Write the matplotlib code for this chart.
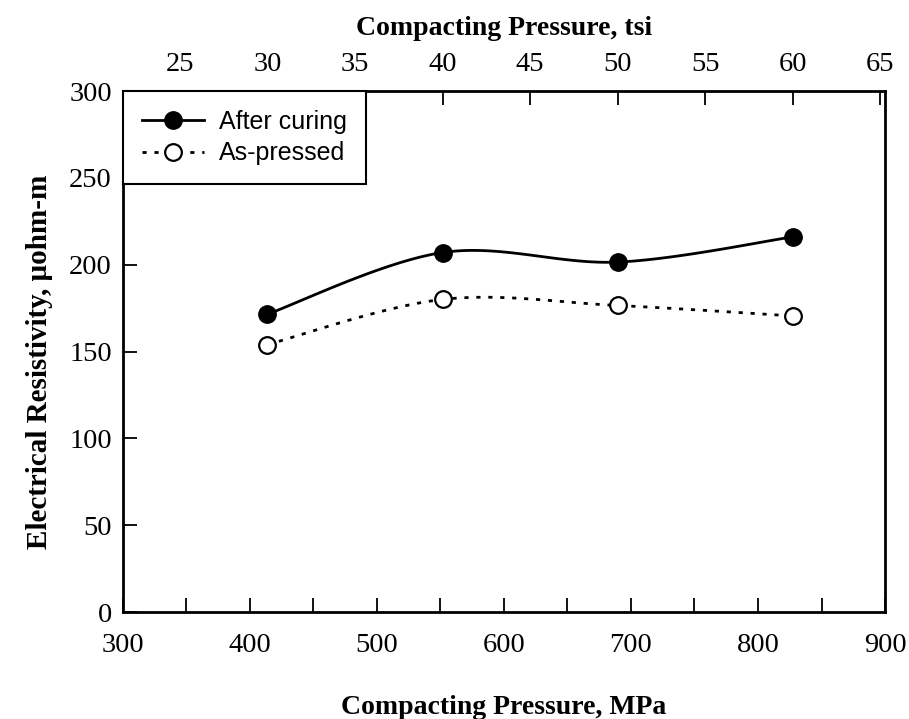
import numpy as np
import matplotlib.pyplot as plt

# compacting pressure (tsi) and resistivity (micro-ohm m)
pressure_tsi = [30, 40, 50, 60]
after_curing = [171.5, 207, 201.5, 216]
as_pressed = [154, 180, 176.5, 170.5]

MPA_PER_TSI = 13.7895
pressure_mpa = [p * MPA_PER_TSI for p in pressure_tsi]


def smooth(xs, ys, n=40):
    # catmull-rom curve through the points, like a spreadsheet "smoothed line"
    x = np.asarray(xs, float)
    y = np.asarray(ys, float)
    px = np.concatenate([[x[0]], x, [x[-1]]])
    py = np.concatenate([[y[0]], y, [y[-1]]])
    ox, oy = [], []
    t = np.linspace(0, 1, n)
    for i in range(1, len(px) - 2):
        for p, out in ((px, ox), (py, oy)):
            p0, p1, p2, p3 = p[i - 1], p[i], p[i + 1], p[i + 2]
            m1 = (p2 - p0) / 2
            m2 = (p3 - p1) / 2
            h00 = 2 * t**3 - 3 * t**2 + 1
            h10 = t**3 - 2 * t**2 + t
            h01 = -2 * t**3 + 3 * t**2
            h11 = t**3 - t**2
            out.extend(h00 * p1 + h10 * m1 + h01 * p2 + h11 * m2)
    return np.array(ox), np.array(oy)


serif = ['Liberation Serif', 'DejaVu Serif']
sans = ['Liberation Sans', 'DejaVu Sans']
TICK_SIZE = 20.5
LABEL_SIZE = 20
DOTS = (0, (1.5, 2.8))

fig = plt.figure(figsize=(9.09, 7.19), dpi=100)
ax = fig.add_axes([0.1353, 0.1488, 0.8383, 0.7246])

sx, sy = smooth(pressure_mpa, after_curing)
ax.plot(sx, sy, color='black', lw=2)
ax.plot(pressure_mpa, after_curing, 'o', color='black', ms=12.5)
ax.plot([], [], '-o', color='black', lw=2, ms=12.5, label='After curing')

sx, sy = smooth(pressure_mpa, as_pressed)
ax.plot(sx, sy, color='black', lw=2, linestyle=DOTS)
ax.plot(pressure_mpa, as_pressed, 'o', mfc='white', mec='black', mew=1.6, ms=12)
ax.plot([], [], 'o', color='black', lw=2, linestyle=DOTS,
        mfc='white', mec='black', mew=1.6, ms=12, label='As-pressed')

ax.set_xlim(300, 900)
ax.set_ylim(0, 300)
ax.set_xticks(range(300, 901, 100))
ax.set_xticks(range(350, 900, 100), minor=True)
ax.set_yticks(range(0, 301, 50))
ax.tick_params(which='both', direction='in', length=10, width=1.3,
               top=False, right=False)
ax.tick_params(axis='x', which='both', pad=15)
ax.tick_params(axis='y', pad=8)
for lab in ax.get_xticklabels() + ax.get_yticklabels():
    lab.set_family(serif)
    lab.set_fontsize(TICK_SIZE)
for sp in ax.spines.values():
    sp.set_linewidth(2)

ax.set_xlabel('Compacting Pressure, MPa', family=serif, fontsize=LABEL_SIZE,
              fontweight='bold', labelpad=27)
ax.set_ylabel('Electrical Resistivity, \u03bcohm-m', family=serif,
              fontsize=LABEL_SIZE + 1, fontweight='bold')
ax.yaxis.set_label_coords(-0.092, 0.48)

top = ax.secondary_xaxis('top', functions=(lambda m: m / MPA_PER_TSI,
                                            lambda t: t * MPA_PER_TSI))
top.set_xticks(range(25, 66, 5))
top.tick_params(direction='in', length=10, width=1.3, pad=10)
for lab in top.get_xticklabels():
    lab.set_family(serif)
    lab.set_fontsize(TICK_SIZE)
top.set_xlabel('Compacting Pressure, tsi', family=serif, fontsize=LABEL_SIZE,
               fontweight='bold', labelpad=12)

leg = ax.legend(loc='upper left', borderaxespad=0, fancybox=False,
                edgecolor='black', framealpha=1, handlelength=2.5,
                handletextpad=0.6, borderpad=0.75, labelspacing=0.3,
                prop={'family': sans, 'size': 18})
leg.get_frame().set_linewidth(1.5)

fig.savefig('out.png', dpi=100)
